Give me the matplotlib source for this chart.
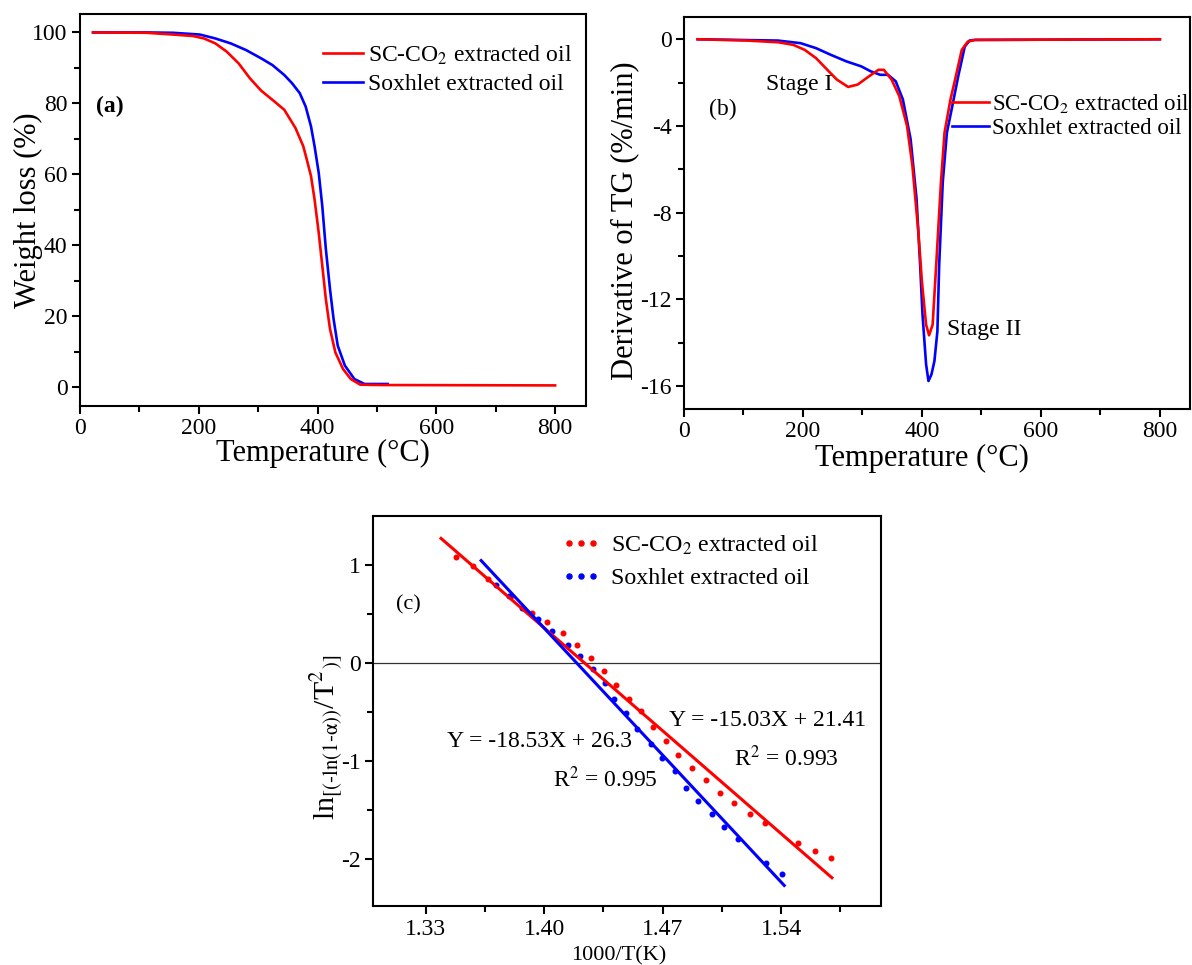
import matplotlib
matplotlib.use('Agg')
import matplotlib.pyplot as plt
from matplotlib.ticker import MultipleLocator, AutoMinorLocator

plt.rcParams['font.family'] = ['Liberation Serif', 'DejaVu Serif']
plt.rcParams['mathtext.fontset'] = 'stix'
plt.rcParams['axes.unicode_minus'] = False

# (a) TGA weight loss curves
tga_sc_temp = [22, 112, 157, 190, 209, 228, 247, 267, 286, 305, 324, 344, 363, 376,
               382, 389, 395, 402, 408, 414, 421, 430, 443, 456, 472, 511, 800]
tga_sc_wt = [100, 99.9, 99.4, 99.0, 98.3, 96.9, 94.6, 91.3, 87.1, 83.6, 81.0, 78.2, 73.0, 67.9,
             64.1, 59.5, 52.9, 43.5, 34.2, 24.8, 16.4, 9.8, 5.1, 2.3, 0.7, 0.6, 0.5]
tga_sox_temp = [22, 112, 157, 202, 228, 254, 280, 305, 324, 344, 357, 370, 380, 389,
                395, 402, 408, 414, 421, 427, 434, 446, 462, 479, 518]
tga_sox_wt = [100, 100, 99.9, 99.4, 98.3, 96.9, 95.0, 92.7, 90.8, 88.0, 85.7, 82.9, 79.1, 73.5,
              67.9, 60.4, 51.0, 38.9, 27.6, 19.2, 11.7, 6.1, 2.3, 0.9, 0.9]

# (b) DTG curves
dtg_sc_temp = [23, 107, 159, 184, 203, 222, 241, 257, 276, 292, 311, 327, 336, 349, 362,
               375, 384, 394, 400, 407, 412, 418, 424, 432, 438, 448, 457, 467, 477, 489, 800]
dtg_sc_val = [0, -0.06, -0.14, -0.26, -0.49, -0.87, -1.41, -1.86, -2.2, -2.09, -1.71, -1.41,
              -1.41, -1.86, -2.63, -4.0, -5.84, -8.89, -11.19, -13.17, -13.66, -13.17, -10.42,
              -6.6, -4.31, -2.78, -1.71, -0.49, -0.11, -0.03, 0]
dtg_sox_temp = [23, 158, 196, 222, 247, 273, 298, 314, 330, 343, 356, 368, 381, 391, 397,
                401, 407, 411, 416, 421, 426, 429, 435, 442, 451, 461, 472, 480, 489, 800]
dtg_sox_val = [0, -0.06, -0.18, -0.41, -0.72, -1.02, -1.25, -1.48, -1.64, -1.64, -1.94, -2.78,
               -4.61, -7.37, -10.42, -12.71, -15.0, -15.77, -15.47, -14.85, -13.48, -10.42,
               -6.6, -4.31, -3.09, -1.71, -0.34, -0.06, -0.03, 0]

# (c) Coats-Redfern plot: measured points and fitted lines
cr_sc_x = [1.3476, 1.3578, 1.3668, 1.3804, 1.3928, 1.4018, 1.4108, 1.4192, 1.4278, 1.4352,
           1.4424, 1.4499, 1.4571, 1.4643, 1.4718, 1.4793, 1.4876, 1.4955, 1.5039, 1.5124,
           1.5215, 1.5305, 1.5497, 1.5599, 1.5696]
cr_sc_y = [1.078, 0.983, 0.858, 0.678, 0.508, 0.414, 0.305, 0.180, 0.051, -0.085, -0.231,
           -0.373, -0.492, -0.654, -0.797, -0.939, -1.068, -1.197, -1.322, -1.431, -1.542,
           -1.634, -1.831, -1.915, -1.990]
cr_sox_x = [1.3713, 1.3792, 1.3871, 1.3962, 1.4047, 1.4138, 1.4214, 1.4289, 1.4357, 1.4413,
            1.4481, 1.4549, 1.4628, 1.4695, 1.4770, 1.4838, 1.4910, 1.4989, 1.5064, 1.5147,
            1.5312, 1.5402]
cr_sox_y = [0.797, 0.678, 0.559, 0.447, 0.322, 0.186, 0.068, -0.068, -0.203, -0.373, -0.508,
            -0.678, -0.831, -0.966, -1.102, -1.271, -1.407, -1.542, -1.678, -1.797, -2.041,
            -2.153]
fit_sc_x = [1.339, 1.570]
fit_sc_y = [1.267, -2.19]
fit_sox_x = [1.3627, 1.5418]
fit_sox_y = [1.041, -2.268]

RED = '#ff0000'
BLUE = '#0000ff'


def style(ax, tick_size=17):
    for s in ax.spines.values():
        s.set_linewidth(1.5)
    ax.tick_params(which='both', direction='out', top=False, right=False,
                   width=1.5, labelsize=tick_size, pad=3)
    ax.tick_params(which='major', length=6)
    ax.tick_params(which='minor', length=4)
    ax.xaxis.set_minor_locator(AutoMinorLocator(2))
    ax.yaxis.set_minor_locator(AutoMinorLocator(2))


fig = plt.figure(figsize=(11.92, 9.65), dpi=100)

# ---- (a)
ax_a = fig.add_axes([0.0671, 0.5793, 0.4245, 0.4062])
ax_a.plot(tga_sox_temp, tga_sox_wt, color=BLUE, lw=1.9, label='Soxhlet extracted oil')
ax_a.plot(tga_sc_temp, tga_sc_wt, color=RED, lw=1.9, label='SC-CO$_2$ extracted oil')
ax_a.set_xlim(0, 852)
ax_a.set_ylim(-5.3, 105.2)
ax_a.xaxis.set_major_locator(MultipleLocator(200))
ax_a.yaxis.set_major_locator(MultipleLocator(20))
style(ax_a)
ax_a.set_xlabel('Temperature (°C)', fontsize=22)
ax_a.set_ylabel('Weight loss (%)', fontsize=22)
ax_a.xaxis.set_label_coords(0.48, -0.084)
ax_a.yaxis.set_label_coords(-0.073, 0.5)
ax_a.text(50, 79, '(a)', fontsize=17, fontweight='bold', ha='center', va='center')
h, l = ax_a.get_legend_handles_labels()
ax_a.legend(h[::-1], l[::-1], loc='upper left', bbox_to_anchor=(0.48, 0.925),
            frameon=False, fontsize=17, handlelength=1.7, handletextpad=0.2,
            borderaxespad=0, borderpad=0, labelspacing=0.3)

# ---- (b)
ax_b = fig.add_axes([0.5738, 0.5762, 0.4242, 0.4059])
ax_b.plot(dtg_sox_temp, dtg_sox_val, color=BLUE, lw=1.9, label='Soxhlet extracted oil')
ax_b.plot(dtg_sc_temp, dtg_sc_val, color=RED, lw=1.9, label='SC-CO$_2$ extracted oil')
ax_b.set_xlim(0, 850)
ax_b.set_ylim(-17.06, 1.015)
ax_b.xaxis.set_major_locator(MultipleLocator(200))
ax_b.yaxis.set_major_locator(MultipleLocator(4))
style(ax_b)
ax_b.set_xlabel('Temperature (°C)', fontsize=22)
ax_b.set_ylabel('Derivative of TG (%/min)', fontsize=22)
ax_b.xaxis.set_label_coords(0.47, -0.09)
ax_b.yaxis.set_label_coords(-0.088, 0.48)
ax_b.text(65, -3.22, '(b)', fontsize=17, ha='center', va='center')
ax_b.text(194, -2.09, 'Stage I', fontsize=17, ha='center', va='center')
ax_b.text(505, -13.37, 'Stage II', fontsize=17, ha='center', va='center')
h, l = ax_b.get_legend_handles_labels()
ax_b.legend(h[::-1], l[::-1], loc='upper left', bbox_to_anchor=(0.53, 0.81),
            frameon=False, fontsize=16.5, handlelength=1.6, handletextpad=0.15,
            borderaxespad=0, borderpad=0, labelspacing=0.15)

# ---- (c)
ax_c = fig.add_axes([0.3132, 0.0611, 0.4259, 0.4045])
ax_c.axhline(0, color='#333333', lw=0.9)
ax_c.plot(cr_sc_x, cr_sc_y, 'o', color=RED, ms=3.3, label='SC-CO$_2$ extracted oil')
ax_c.plot(cr_sox_x, cr_sox_y, 'o', color=BLUE, ms=3.3, label='Soxhlet extracted oil')
ax_c.plot(fit_sc_x, fit_sc_y, color=RED, lw=2.2)
ax_c.plot(fit_sox_x, fit_sox_y, color=BLUE, lw=2.2)
ax_c.set_xlim(1.299, 1.599)
ax_c.set_ylim(-2.478, 1.498)
ax_c.set_xticks([1.33, 1.40, 1.47, 1.54])
ax_c.set_xticklabels(['1.33', '1.40', '1.47', '1.54'])
ax_c.yaxis.set_major_locator(MultipleLocator(1))
style(ax_c)
ax_c.set_xticks([1.365, 1.435, 1.505, 1.575], minor=True)
ax_c.set_xlabel('1000/T(K)', fontsize=16)
ax_c.set_ylabel(r'ln$_{\text{[(-ln(1-α))}}$/T$^{2}$$_{\text{)]}}$', fontsize=21.5)
ax_c.xaxis.set_label_coords(0.483, -0.103)
ax_c.yaxis.set_label_coords(-0.058, 0.433)
ax_c.text(1.320, 0.59, '(c)', fontsize=16, ha='center', va='center')
ax_c.text(1.5319, -0.59, 'Y = -15.03X + 21.41', fontsize=17, ha='center', va='center')
ax_c.text(1.543, -0.97, 'R$^2$ = 0.993', fontsize=17, ha='center', va='center')
ax_c.text(1.397, -0.80, 'Y = -18.53X + 26.3', fontsize=17, ha='center', va='center')
ax_c.text(1.4364, -1.19, 'R$^2$ = 0.995', fontsize=17, ha='center', va='center')
ax_c.legend(loc='upper left', bbox_to_anchor=(0.372, 0.955), frameon=False, fontsize=17.3,
            numpoints=3, handlelength=1.6, handletextpad=0.45, markerscale=1.1,
            borderaxespad=0, borderpad=0, labelspacing=0.45)

fig.savefig('out.png', dpi=100)
